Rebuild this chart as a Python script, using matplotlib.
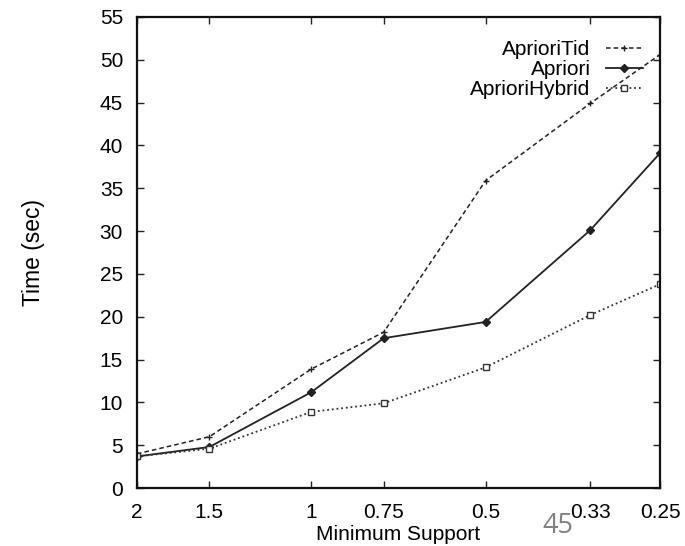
import matplotlib
matplotlib.use("Agg")
import matplotlib.pyplot as plt
from matplotlib.ticker import FixedLocator, FixedFormatter, NullLocator

support = [2, 1.5, 1, 0.75, 0.5, 0.33, 0.25]
support_labels = ["2", "1.5", "1", "0.75", "0.5", "0.33", "0.25"]
apriori_tid = [4.0, 6.0, 13.9, 18.2, 35.9, 44.9, 50.6]
apriori = [3.7, 4.8, 11.2, 17.5, 19.4, 30.1, 39.1]
apriori_hybrid = [3.7, 4.6, 8.9, 9.9, 14.1, 20.2, 23.8]
y_ticks = list(range(0, 56, 5))

plt.rcParams['font.family'] = ['Liberation Sans', 'DejaVu Sans']

FS = 15

fig = plt.figure(figsize=(6.85, 5.46), dpi=100)
ax = fig.add_axes([0.2, 0.106, 0.7635, 0.863])

ax.plot(support, apriori_tid, linestyle=(0, (3, 2)), color='#222222', lw=1.1,
        marker='+', ms=5, mew=1.0, label='AprioriTid')
ax.plot(support, apriori, linestyle='-', color='#222222', lw=1.3,
        marker='D', ms=4, mfc='#222222', label='Apriori')
ax.plot(support, apriori_hybrid, linestyle=(0, (1, 1.6)), color='#333333', lw=1.3,
        marker='s', ms=5, mfc='white', mew=1.0, label='AprioriHybrid')

ax.set_xscale('log')
ax.set_xlim(2, 0.25)
ax.set_ylim(0, 55)
ax.xaxis.set_major_locator(FixedLocator(support))
ax.xaxis.set_major_formatter(FixedFormatter(support_labels))
ax.xaxis.set_minor_locator(NullLocator())
ax.set_yticks(y_ticks)

ax.tick_params(axis='both', which='major', direction='in', length=5, width=1.0,
               top=True, right=True, labelsize=FS, color='#222222')
ax.tick_params(axis='x', pad=10.5)
ax.tick_params(axis='y', pad=10)
for s in ax.spines.values():
    s.set_linewidth(1.6)
    s.set_color('#111111')

ax.set_ylabel('Time (sec)', fontsize=16.5)
ax.yaxis.set_label_coords(-0.197, 0.5)
ax.yaxis.label.set_va('center')
ax.set_xlabel('Minimum Support', fontsize=FS)
ax.xaxis.set_label_coords(0.5, -0.119)
ax.xaxis.label.set_va('bottom')

leg = ax.legend(loc='upper right', bbox_to_anchor=(0.983, 0.969), frameon=False,
                fontsize=FS, markerfirst=False, handlelength=1.78,
                handletextpad=0.72, labelspacing=0.06, borderaxespad=0)
for t in leg.get_texts():
    t.set_ha('right')

fig.text(0.815, 0.036, '45', fontsize=19.5, color='#808080', family=['Open Sans', 'DejaVu Sans'],
         ha='center', va='center')

fig.savefig('out.png', dpi=100)
